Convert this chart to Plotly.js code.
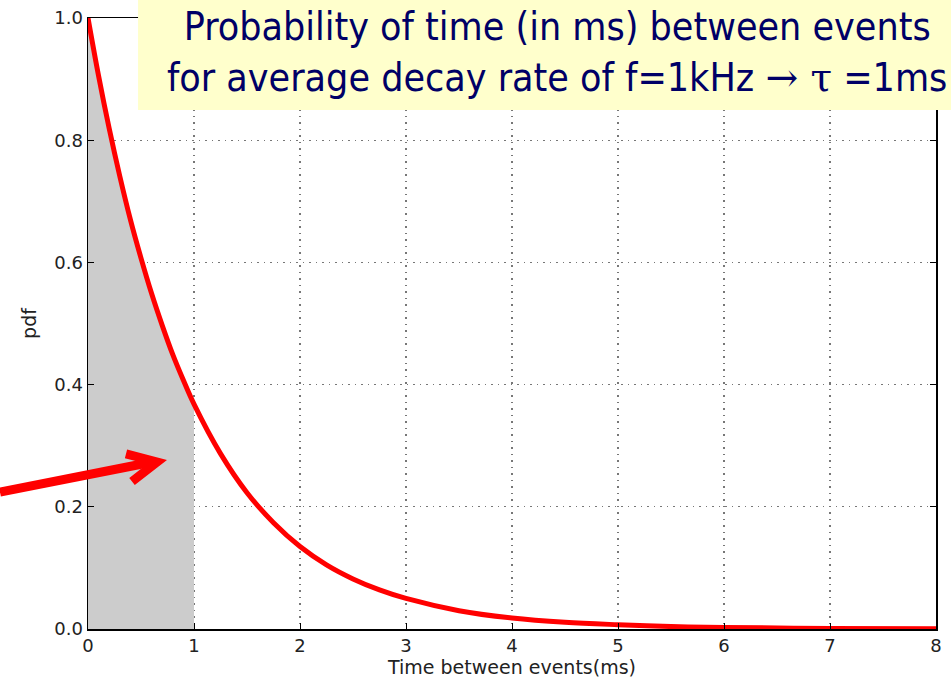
<!DOCTYPE html>
<html>
<head>
<meta charset="utf-8">
<script src="https://cdn.plot.ly/plotly-3.0.1.min.js"></script>
<style>html,body{margin:0;padding:0;background:#fff;}#chart{width:951px;height:678px;}</style>
</head>
<body>
<div id="chart"></div>
<script>
// Values
var timeMs = [0, 0.1, 0.2, 0.3, 0.4, 0.5, 0.6, 0.7, 0.8, 0.9, 1.0, 1.25, 1.5, 1.75, 2.0, 2.25, 2.5, 2.75, 3.0, 3.5, 4.0, 4.5, 5.0, 5.5, 6.0, 7.0, 8.0];
var pdfValues = [1.0, 0.905, 0.819, 0.741, 0.670, 0.607, 0.549, 0.497, 0.449, 0.407, 0.368, 0.287, 0.223, 0.174, 0.135, 0.105, 0.082, 0.064, 0.050, 0.030, 0.018, 0.011, 0.007, 0.004, 0.0025, 0.001, 0.0003];
var shadeTime = [0, 0.1, 0.2, 0.3, 0.4, 0.5, 0.6, 0.7, 0.8, 0.9, 1.0];
var shadePdf = [1.0, 0.905, 0.819, 0.741, 0.670, 0.607, 0.549, 0.497, 0.449, 0.407, 0.368];
var xTicks = [0, 1, 2, 3, 4, 5, 6, 7, 8];
var yTicks = [0.0, 0.2, 0.4, 0.6, 0.8, 1.0];
var yTickText = ['0.0', '0.2', '0.4', '0.6', '0.8', '1.0'];
var titleText = 'Probability of time (in ms) between events<br>for average decay rate of f=1kHz ' +
  '<span style="font-family:\'DejaVu Serif\'">\u2192 \u03c4</span> =1ms';

var traces = [
  {x: shadeTime, y: shadePdf, type: 'scatter', mode: 'lines', fill: 'tozeroy',
   fillcolor: '#cccccc', line: {width: 0, color: 'rgba(0,0,0,0)', shape: 'spline'}, hoverinfo: 'skip'},
  {x: timeMs, y: pdfValues, type: 'scatter', mode: 'lines',
   line: {color: '#ff0000', width: 5, shape: 'spline'}}
];

var axisFont = {family: 'DejaVu Sans', size: 18, color: '#222'};
var layout = {
  width: 951, height: 678,
  margin: {l: 88, r: 15, t: 18, b: 49},
  paper_bgcolor: '#fff', plot_bgcolor: '#fff',
  showlegend: false,
  xaxis: {
    range: [0, 8], tickvals: xTicks, ticktext: xTicks.map(String),
    ticks: 'inside', ticklen: 6, tickcolor: '#000', tickwidth: 1,
    showline: true, linecolor: '#000', linewidth: 1.5, mirror: 'ticks',
    showgrid: true, gridcolor: '#777', griddash: '1.5px,5px', gridwidth: 1.2,
    zeroline: false, tickfont: axisFont,
    title: {text: 'Time between events(ms)', font: {family: 'DejaVu Sans', size: 19, color: '#222'}, standoff: 7}
  },
  yaxis: {
    range: [0, 1], tickvals: yTicks, ticktext: yTickText,
    ticks: 'inside', ticklen: 6, tickcolor: '#000', tickwidth: 1,
    showline: true, linecolor: '#000', linewidth: 1.5, mirror: 'ticks',
    showgrid: true, gridcolor: '#777', griddash: '1.5px,5px', gridwidth: 1.2,
    zeroline: false, tickfont: axisFont,
    title: {text: 'pdf', font: {family: 'DejaVu Sans', size: 19, color: '#222'}, standoff: 12}
  },
  shapes: [
    {type: 'path', xref: 'paper', yref: 'paper',
     path: 'M -0.1038,0.2242 L 0.0790,0.2741',
     line: {color: '#ff0000', width: 9}},
    {type: 'path', xref: 'paper', yref: 'paper',
     path: 'M 0.0448,0.2865 L 0.0814,0.2733 L 0.0519,0.2414',
     line: {color: '#ff0000', width: 9}},
    {type: 'rect', xref: 'paper', yref: 'paper', layer: 'above',
     x0: 0.059, x1: 1.0177, y0: 0.8494, y1: 1.0295,
     fillcolor: '#ffffcc', line: {width: 0}}
  ],
  annotations: [
    {xref: 'paper', yref: 'paper', x: 0.5531, y: 0.944, xanchor: 'center', yanchor: 'middle',
     showarrow: false, align: 'center', text: titleText,
     font: {family: 'DejaVu Sans Condensed', size: 39, color: '#000066'}}
  ]
};

Plotly.newPlot('chart', traces, layout, {staticPlot: true});
</script>
</body>
</html>
